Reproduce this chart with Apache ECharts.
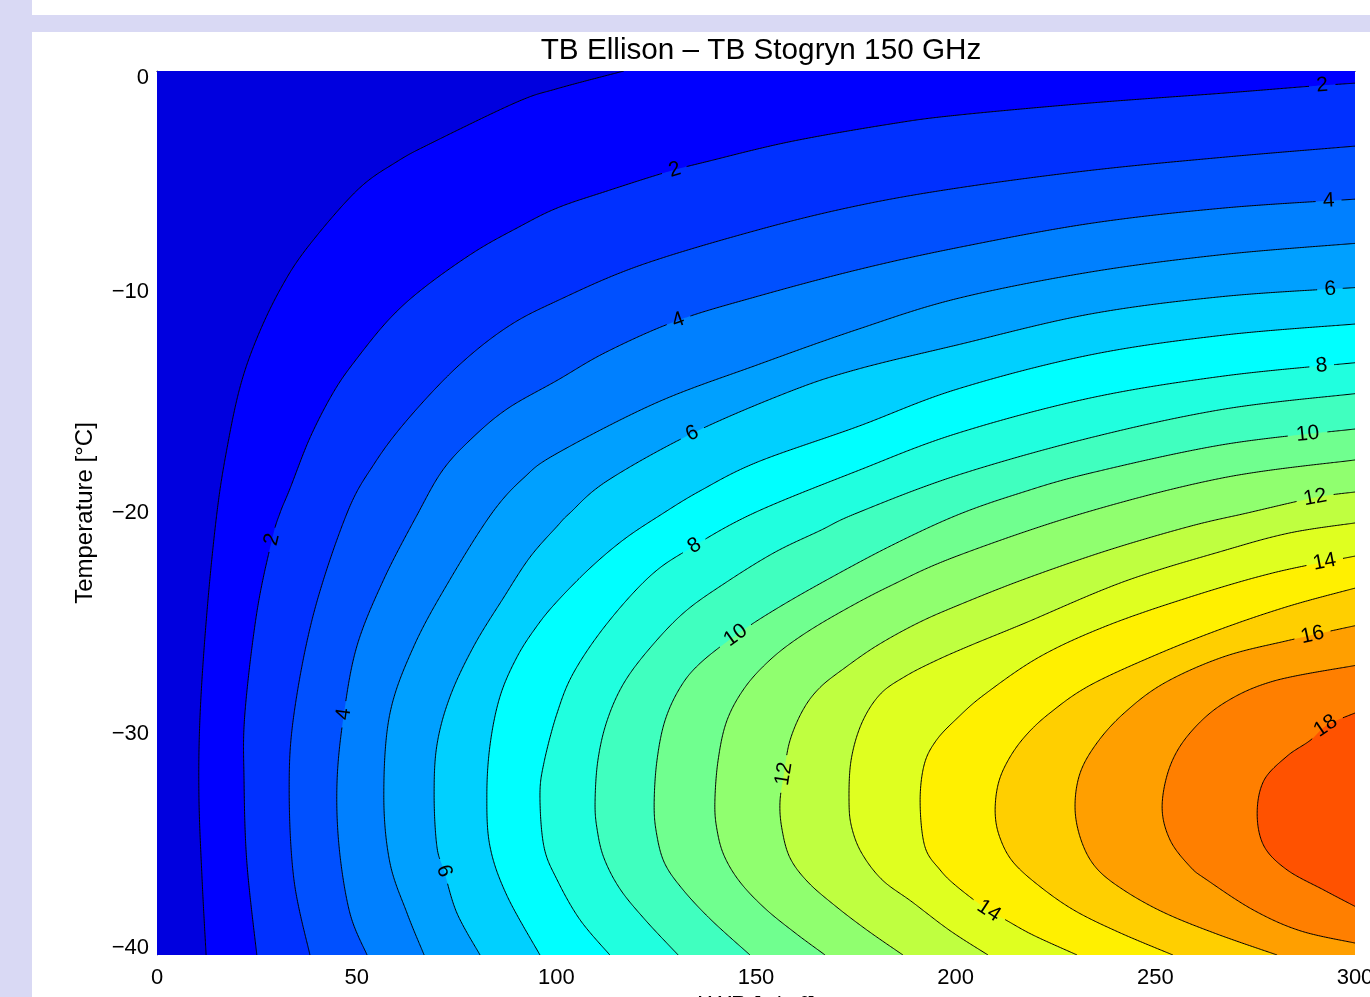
<!DOCTYPE html>
<html>
<head>
<meta charset="utf-8">
<title>TB Ellison – TB Stogryn 150 GHz</title>
<script src="https://cdn.jsdelivr.net/npm/echarts/dist/echarts.min.js"></script>
<style>
html,body{margin:0;padding:0;background:#fff;}
#chart{position:absolute;left:0;top:0;width:1370px;height:997px;}
</style>
</head>
<body>
<div id="chart"></div>
<script>
// ---------------- data (LWP [g/m²], Temperature [°C]) ----------------
const chartTitle = 'TB Ellison – TB Stogryn 150 GHz';
const xName = 'LWP [g/m²]';
const yName = 'Temperature [°C]';
const xTickValues = [0, 50, 100, 150, 200, 250, 300];
const yTickValues = [-40, -30, -20, -10, 0];
const contourLevels = [1, 2, 3, 4, 5, 6, 7, 8, 9, 10, 11, 12, 13, 14, 15, 16, 17, 18];

const L1 = [[12.3,-40],[11.3,-36.6],[10.5,-32.8],[10.8,-29.1],[12.5,-24.5],[15.0,-20.0],[17.5,-17.1],[20.8,-14.3],[25.0,-12.1],[30.8,-9.9],[37.6,-8.0],[50.1,-5.4],[60.1,-4.1],[69.4,-3.2],[90.2,-1.4],[100.2,-0.8],[116.9,0]];
const L2 = [[25.0,-40],[22.5,-35.8],[21.8,-32.1],[22.0,-29.1],[25.0,-24.5],[28.8,-21.2],[30.8,-20.0],[33.3,-18.9],[38.3,-16.6],[44.3,-14.5],[50.1,-13.0],[58.3,-11.2],[66.9,-9.8],[79.4,-8.2],[90.2,-7.1],[100.2,-6.2],[112.7,-5.43],[127.7,-4.57],[137.7,-4.1],[158.5,-3.2],[183.6,-2.4],[200.3,-2.0],[233.6,-1.45],[267.2,-1.0],[288.0,-0.7],[300,-0.55]];
const L3 = [[38.3,-40],[34.3,-36.6],[33.1,-32.5],[34.3,-29.1],[39.3,-24.5],[47.6,-20.0],[54.3,-17.8],[62.6,-15.8],[75.1,-13.4],[87.6,-11.6],[100.2,-10.4],[120.9,-8.8],[150.3,-7.2],[175.3,-6.1],[200.3,-5.3],[233.6,-4.5],[267.2,-3.9],[300,-3.4]];
const L4 = [[52.6,-40],[48.3,-38.1],[45.6,-35.1],[45.1,-32.1],[46.8,-29.1],[50.1,-26.0],[56.8,-23.0],[65.1,-20.1],[71.4,-18.1],[78.4,-16.7],[87.6,-15.3],[100.2,-14.0],[112.7,-12.7],[130.2,-11.3],[150.3,-10.2],[175.3,-9.0],[200.3,-8.0],[233.6,-6.9],[267.2,-6.2],[300,-5.8]];
const L5 = [[66.9,-40],[62.6,-38.1],[58.3,-35.8],[56.8,-32.8],[58.3,-29.1],[64.4,-26.0],[73.4,-23.0],[83.9,-20.0],[91.9,-18.4],[100.2,-17.3],[125.2,-15.0],[150.3,-13.3],[175.3,-11.7],[200.3,-10.3],[233.6,-9.1],[267.2,-8.3],[300,-7.8]];
const L6 = [[80.9,-40],[75.1,-38.1],[71.9,-36.2],[70.1,-35.1],[69.4,-32.8],[70.1,-30.5],[73.4,-28.3],[79.4,-26.0],[86.9,-23.8],[93.4,-22.0],[100.2,-20.6],[103.4,-20.0],[112.7,-18.55],[134.0,-16.4],[158.5,-14.5],[175.3,-13.5],[200.3,-12.4],[233.6,-11.0],[267.2,-10.2],[300,-9.8]];
const L7 = [[95.9,-40],[87.6,-37.3],[83.4,-35.1],[82.6,-32.8],[83.4,-30.5],[85.9,-28.3],[90.2,-26.5],[95.2,-25.1],[100.2,-24.0],[108.4,-22.5],[116.9,-21.2],[126.0,-20.1],[136.0,-19.0],[150.3,-17.7],[175.3,-16.1],[200.3,-14.4],[233.6,-12.85],[267.2,-11.95],[300,-11.45]];
const L8 = [[113.4,-40],[105.9,-38.4],[100.2,-36.6],[96.9,-35.1],[95.9,-32.8],[96.9,-31.3],[100.2,-29.05],[104.4,-27.2],[112.7,-25.0],[123.5,-22.85],[133.5,-21.6],[149.5,-20.0],[175.3,-18.1],[200.3,-16.4],[233.6,-14.8],[267.2,-13.8],[300,-13.2]];
const L9 = [[130.5,-40],[122.2,-38.4],[115.9,-37.0],[111.9,-35.6],[110.2,-34.3],[109.7,-33.1],[110.4,-31.2],[112.7,-29.4],[116.9,-27.7],[123.5,-26.1],[132.0,-24.5],[142.0,-23.2],[154.5,-21.8],[166.0,-20.8],[175.3,-20.0],[200.3,-18.3],[233.6,-16.6],[267.2,-15.3],[300,-14.6]];
const L10 = [[148.5,-40],[138.7,-38.4],[131.5,-37.0],[127.0,-35.8],[125.0,-34.4],[124.5,-33.1],[125.2,-31.2],[127.2,-29.4],[131.0,-27.9],[136.0,-26.8],[145.2,-25.5],[154.5,-24.4],[167.0,-23.1],[183.6,-21.5],[200.3,-20.1],[216.1,-19.1],[233.6,-18.2],[267.2,-16.9],[300,-16.2]];
const L11 = [[167.3,-40],[159.8,-39.0],[152.3,-37.9],[146.0,-36.7],[142.0,-35.5],[140.2,-34.3],[139.7,-33.1],[140.5,-31.2],[142.7,-29.4],[147.2,-27.9],[153.5,-26.65],[161.0,-25.6],[171.0,-24.5],[183.6,-23.3],[200.3,-21.95],[232.1,-20.0],[267.2,-18.4],[300,-17.6]];
const L12 = [[186.8,-40],[178.0,-38.9],[170.0,-37.8],[163.0,-36.7],[158.5,-35.6],[156.5,-34.3],[156.0,-33.1],[157.0,-31.8],[158.5,-30.3],[161.8,-28.9],[166.0,-27.9],[172.3,-27.0],[180.3,-26.0],[190.3,-25.0],[200.3,-24.2],[217.1,-23.0],[237.9,-21.7],[258.7,-20.6],[273.0,-20.0],[290.0,-19.3],[300,-19.05]];
const L13 = [[208.1,-40],[198.6,-38.9],[189.1,-37.6],[181.6,-36.6],[176.5,-35.4],[174.0,-34.25],[173.3,-33.1],[173.8,-31.2],[176.5,-29.5],[181.1,-28.2],[187.3,-27.4],[194.8,-26.7],[203.6,-26.0],[217.1,-25.0],[242.2,-23.1],[267.2,-21.7],[283.7,-20.9],[300,-20.45]];
const L14 = [[230.4,-40],[219.4,-39.1],[212.4,-38.4],[208.3,-38.0],[200.3,-36.9],[196.1,-36.15],[192.3,-35.1],[191.1,-33.1],[192.1,-31.4],[195.1,-30.3],[200.3,-29.3],[207.3,-28.2],[221.1,-26.5],[237.9,-25.1],[258.7,-23.8],[279.7,-22.7],[300,-21.95]];
const L15 = [[254.4,-40],[241.2,-39.0],[229.9,-38.0],[221.1,-36.9],[214.4,-35.8],[211.1,-34.7],[209.9,-33.6],[210.6,-32.3],[213.1,-31.2],[217.4,-30.1],[223.6,-29.05],[233.6,-27.8],[250.4,-26.4],[267.2,-25.2],[283.7,-24.2],[300,-23.4]];
const L16 = [[280.5,-40],[265.4,-39.05],[252.4,-38.1],[242.4,-37.1],[235.4,-36.1],[231.6,-34.9],[229.9,-33.4],[231.1,-31.8],[235.4,-30.4],[242.2,-29.05],[252.2,-27.7],[267.2,-26.5],[283.7,-25.75],[300,-25.1]];
const L17 = [[300,-39.46],[286.2,-38.9],[274.5,-37.96],[262.9,-36.6],[258.7,-36.0],[253.7,-34.8],[251.7,-33.3],[253.7,-31.45],[258.7,-29.95],[267.2,-28.6],[279.7,-27.6],[300,-26.9]];
const L18 = [[300,-37.8],[292.2,-37.06],[283.0,-36.15],[277.2,-35.07],[275.5,-33.6],[277.2,-32.1],[283.0,-31.0],[288.7,-30.3],[293.0,-29.6],[300,-29.05]];

// contour label spots: [level, LWP, T]
const labelSpots = [
  [2, 291.7, -0.5], [2, 129.5, -4.4], [2, 28.8, -21.2],
  [4, 293.5, -5.8], [4, 130.2, -11.2], [4, 46.3, -29.1],
  [6, 293.7, -9.8], [6, 134.0, -16.4], [6, 71.6, -36.2],
  [8, 291.7, -13.2], [8, 134.7, -21.5],
  [10, 288.0, -16.3], [10, 145.2, -25.6],
  [12, 290.0, -19.2], [12, 157.0, -31.8],
  [14, 292.0, -22.0], [14, 208.3, -38.0],
  [16, 289.2, -25.4],
  [18, 292.7, -29.6]
];

// ---------------- styling ----------------
const bandColors = ['#0000DF','#0000FF','#0030FF','#0050FF','#0080FF','#00A0FF','#00D0FF','#00FFFF','#20FFDF','#40FFBF','#70FF8F','#90FF6F','#BFFF40','#DFFF20','#FFF000','#FFCF00','#FF9F00','#FF7F00','#FF5200'];
const contourLines = [L1, L2, L3, L4, L5, L6, L7, L8, L9, L10, L11, L12, L13, L14, L15, L16, L17, L18];
const FONT = '"Liberation Sans", Arial, Helvetica, sans-serif';
const xMin = xTickValues[0], xMax = xTickValues[xTickValues.length - 1];
const yMin = yTickValues[0], yMax = yTickValues[yTickValues.length - 1];

function catmullRom(pts) {
  const out = [];
  const n = pts.length;
  for (let i = 0; i < n - 1; i++) {
    const p0 = pts[i - 1] || pts[i], p1 = pts[i], p2 = pts[i + 1], p3 = pts[i + 2] || pts[i + 1];
    const d = Math.hypot(p2[0] - p1[0], p2[1] - p1[1]);
    const steps = Math.max(2, Math.ceil(d / 1.5));
    for (let s = 0; s < steps; s++) {
      const t = s / steps, t2 = t * t, t3 = t2 * t;
      const f = (a, b, c, e) => 0.5 * (2 * b + (-a + c) * t + (2 * a - 5 * b + 4 * c - e) * t2 + (-a + 3 * b - 3 * c + e) * t3);
      out.push([f(p0[0], p1[0], p2[0], p3[0]), f(p0[1], p1[1], p2[1], p3[1])]);
    }
  }
  out.push(pts[n - 1]);
  return out;
}
function pixelCurve(api, line) {
  return catmullRom(line.map(p => api.coord(p)));
}

function renderFill(params, api) {
  const k = api.value(0);
  const tl = api.coord([xMin, yMax]), tr = api.coord([xMax, yMax]);
  const br = api.coord([xMax, yMin]), bl = api.coord([xMin, yMin]);
  let pts;
  if (k === 0) {
    pts = [tl, tr, br, bl];
  } else {
    const line = contourLines[k - 1];
    pts = pixelCurve(api, line).slice();
    const first = line[0], last = line[line.length - 1];
    if (last[1] === yMax) pts.push(tr);
    if (first[1] === yMin) pts.push(br);
  }
  return { type: 'polygon', z2: k, shape: { points: pts }, style: { fill: bandColors[k], stroke: null } };
}

function renderLine(params, api) {
  const k = api.value(0);
  const level = contourLevels[k];
  const curve = pixelCurve(api, contourLines[k]);
  const labels = labelSpots.filter(s => s[0] === level).map(s => {
    const target = api.coord([s[1], s[2]]);
    let bi = 0, bd = Infinity;
    curve.forEach((p, i) => {
      const d = (p[0] - target[0]) ** 2 + (p[1] - target[1]) ** 2;
      if (d < bd) { bd = d; bi = i; }
    });
    const a = curve[Math.max(0, bi - 5)], b = curve[Math.min(curve.length - 1, bi + 5)];
    let ang = Math.atan2(-(b[1] - a[1]), b[0] - a[0]);
    if (ang > Math.PI / 2) ang -= Math.PI; else if (ang <= -Math.PI / 2) ang += Math.PI;
    const txt = String(level);
    return { c: curve[bi], ang: ang, txt: txt, half: txt.length * 6.2 + 6 };
  });
  const pieces = [];
  let cur = [];
  curve.forEach(p => {
    const hidden = labels.some(l => Math.hypot(p[0] - l.c[0], p[1] - l.c[1]) < l.half);
    if (hidden) { if (cur.length > 1) pieces.push(cur); cur = []; }
    else cur.push(p);
  });
  if (cur.length > 1) pieces.push(cur);
  const children = pieces.map(pts => ({
    type: 'polyline', shape: { points: pts },
    style: { stroke: '#000', lineWidth: 1, fill: 'none' }
  }));
  labels.forEach(l => children.push({
    type: 'text', x: l.c[0], y: l.c[1], rotation: l.ang,
    style: { text: l.txt, fill: '#000', font: '21px ' + FONT,
      align: 'center', verticalAlign: 'middle', textAlign: 'center', textVerticalAlign: 'middle' }
  }));
  return { type: 'group', children: children };
}

const chart = echarts.init(document.getElementById('chart'), null, { renderer: 'canvas' });
chart.setOption({
  backgroundColor: '#ffffff',
  animation: false,
  title: {
    text: chartTitle, left: 756, top: 31, textAlign: 'center',
    textStyle: { fontSize: 29.7, fontWeight: 'normal', color: '#000', fontFamily: FONT }
  },
  graphic: [
    { type: 'rect', silent: true, shape: { x: 0, y: 0, width: 32, height: 997 }, style: { fill: '#d9d9f4' } },
    { type: 'rect', silent: true, shape: { x: 32, y: 15, width: 1338, height: 17 }, style: { fill: '#d9d9f4' } }
  ],
  grid: { left: 157, top: 71, right: 15, bottom: 42, containLabel: false, outerBoundsMode: 'none' },
  xAxis: [{
    type: 'value', min: xMin, max: xMax, interval: 50, position: 'bottom',
    axisLine: { show: true, lineStyle: { color: '#888', width: 1 } },
    axisTick: { show: false }, splitLine: { show: false },
    axisLabel: { color: '#000', fontSize: 22, fontFamily: FONT, margin: 12 },
    name: xName, nameLocation: 'middle', nameGap: 33,
    nameTextStyle: { color: '#000', fontSize: 24, fontFamily: FONT }
  }, {
    type: 'value', min: xMin, max: xMax, position: 'top',
    axisLine: { show: true, lineStyle: { color: '#444', width: 1 } },
    axisTick: { show: false }, axisLabel: { show: false }, splitLine: { show: false }
  }],
  yAxis: {
    type: 'value', min: yMin, max: yMax, interval: 10,
    axisLine: { show: true, lineStyle: { color: '#888', width: 1 } },
    axisTick: { show: false }, splitLine: { show: false },
    axisLabel: {
      color: '#000', fontSize: 22, fontFamily: FONT, margin: 8, lineHeight: 14,
      verticalAlignMinLabel: 'bottom', verticalAlignMaxLabel: 'top',
      formatter: v => (v < 0 ? '\u2212' + Math.abs(v) : String(v))
    },
    name: yName, nameLocation: 'middle', nameGap: 60, nameRotate: 90,
    nameTextStyle: { color: '#000', fontSize: 24, fontFamily: FONT }
  },
  series: [{
    type: 'custom', name: 'fill', coordinateSystem: 'cartesian2d', xAxisIndex: 0, yAxisIndex: 0,
    clip: true, silent: true, z: 1,
    data: bandColors.map((c, i) => [i, -20]),
    renderItem: renderFill
  }, {
    type: 'custom', name: 'contours', coordinateSystem: 'cartesian2d', xAxisIndex: 0, yAxisIndex: 0,
    clip: true, silent: true, z: 3,
    data: contourLevels.map((lv, i) => [i, -20]),
    renderItem: renderLine
  }]
});
</script>
</body>
</html>
